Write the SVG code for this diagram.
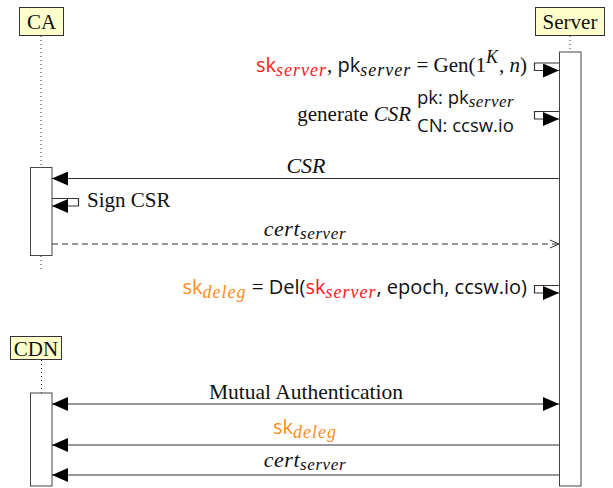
<svg xmlns="http://www.w3.org/2000/svg" width="613" height="488" viewBox="0 0 613 488">
<style>
.box{fill:#ffffcc;stroke:#333;stroke-width:1}
.bar{fill:#fff;stroke:#444;stroke-width:1}
.life{stroke:#333;stroke-width:1;stroke-dasharray:1,3;fill:none}
.msg{stroke:#333;stroke-width:1.2;fill:none}
.serif{font-family:"Liberation Serif","Times New Roman",serif;font-size:21px;fill:#111}
.sans{font-family:"Open Sans","DejaVu Sans",sans-serif;font-size:20px}
.it{font-family:"Liberation Serif",serif;font-style:italic}
.sub{font-family:"Liberation Serif",serif;font-style:italic;font-size:18px;letter-spacing:1px}
.red{fill:#ff1a1a}
.orange{fill:#ff8c1a}
</style>
<defs>
<marker id="arr" markerUnits="userSpaceOnUse" markerWidth="16" markerHeight="14" viewBox="0 0 16 14" refX="16" refY="7" orient="auto-start-reverse">
<path d="M0,0 L16,7 L0,14 z" fill="#000"/>
</marker>
<marker id="open" markerUnits="userSpaceOnUse" markerWidth="11" markerHeight="11" viewBox="0 0 11 11" refX="10" refY="5.5" orient="auto">
<path d="M1,1.5 L10,5.5 L1,9.5" fill="none" stroke="#333" stroke-width="1"/>
</marker>
</defs>

<g id="CA">
<rect class="box" x="19.5" y="7.5" width="44" height="28"/>
<text class="serif" x="41.5" y="28.5" text-anchor="middle">CA</text>
<line class="life" x1="41" y1="36" x2="41" y2="167"/>
<line class="life" x1="41" y1="256" x2="41" y2="269"/>
<rect class="bar" x="30.5" y="167.5" width="21.5" height="88"/>
</g>

<g id="Server">
<rect class="box" x="535.5" y="7.5" width="69" height="28"/>
<text class="serif" x="570" y="28.5" text-anchor="middle">Server</text>
<line class="life" x1="570" y1="36" x2="570" y2="52"/>
<rect class="bar" x="559.5" y="52" width="21.5" height="434"/>
</g>

<g id="CDN">
<rect class="box" x="10.5" y="336.5" width="51" height="23"/>
<text class="serif" x="36" y="355.5" text-anchor="middle">CDN</text>
<line class="life" x1="41.5" y1="360" x2="41.5" y2="393"/>
<rect class="bar" x="30.5" y="393" width="21.5" height="93"/>
</g>

<g id="connectors">
<path class="msg" d="M559,63 H534.5 V70.5 H559" marker-end="url(#arr)"/>
<path class="msg" d="M559,111.5 H534.5 V119 H559" marker-end="url(#arr)"/>
<path class="msg" d="M559,178.5 H52" marker-end="url(#arr)" stroke="#555"/>
<path class="msg" d="M52,198.5 H78.5 V206 H52" marker-end="url(#arr)"/>
<path class="msg" d="M52,244 H559" stroke-dasharray="6,4" marker-end="url(#open)"/>
<path class="msg" d="M559,285.5 H534.5 V293 H559" marker-end="url(#arr)"/>
<path class="msg" d="M52,404 H559" marker-start="url(#arr)" marker-end="url(#arr)"/>
<path class="msg" d="M559,445 H52" marker-end="url(#arr)"/>
<path class="msg" d="M559,475 H52" marker-end="url(#arr)"/>
</g>

<g id="labels">
<text class="serif" x="527" y="72" text-anchor="end"><tspan class="sans red">sk</tspan><tspan class="sub red" dy="4">server</tspan><tspan dy="-4">,  </tspan><tspan class="sans">pk</tspan><tspan class="sub" dy="4">server</tspan><tspan dy="-4"> = Gen(1</tspan><tspan class="sub" dy="-9">K</tspan><tspan dy="9">, </tspan><tspan class="it">n</tspan><tspan>)</tspan></text>
<text class="serif" x="411" y="121" text-anchor="end">generate <tspan class="it">CSR</tspan></text>
<text class="serif" x="417" y="104"><tspan class="sans" style="font-size:18.5px">pk: pk</tspan><tspan class="sub" style="font-size:17px;letter-spacing:0.5px" dy="3">server</tspan></text>
<text class="serif" x="417" y="132"><tspan class="sans" style="font-size:18.5px">CN: ccsw.io</tspan></text>
<text class="serif it" x="306" y="173" text-anchor="middle" style="font-size:22px">CSR</text>
<text class="serif" x="87" y="207">Sign CSR</text>
<text class="serif" x="305" y="236" text-anchor="middle"><tspan class="it" style="font-size:22px;letter-spacing:0.5px">cert</tspan><tspan class="sub" style="font-size:17px;letter-spacing:0.6px" dy="3">server</tspan></text>
<text class="serif" x="527" y="294" text-anchor="end"><tspan class="sans orange">sk</tspan><tspan class="sub orange" dy="4">deleg</tspan><tspan dy="-4"> = </tspan><tspan class="sans">Del(</tspan><tspan class="sans red">sk</tspan><tspan class="sub red" dy="4">server</tspan><tspan class="sans" dy="-4">, epoch, ccsw.io)</tspan></text>
<text class="serif" x="306" y="399" text-anchor="middle" style="font-size:21.5px">Mutual Authentication</text>
<text class="serif" x="305" y="434" text-anchor="middle"><tspan class="sans orange">sk</tspan><tspan class="sub orange" dy="4">deleg</tspan></text>
<text class="serif" x="305" y="467" text-anchor="middle"><tspan class="it" style="font-size:22px;letter-spacing:0.5px">cert</tspan><tspan class="sub" style="font-size:17px;letter-spacing:0.6px" dy="3">server</tspan></text>
</g>
</svg>
